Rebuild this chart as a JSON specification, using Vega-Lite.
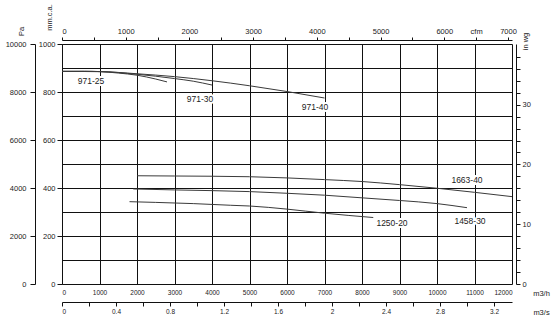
{
  "$schema": "https://vega.github.io/schema/vega-lite/v6.json",
  "width": 450,
  "height": 240,
  "autosize": {"type": "none"},
  "padding": {"left": 62, "top": 44, "right": 48, "bottom": 36},
  "background": "white",
  "config": {
    "view": {"stroke": null},
    "font": "Liberation Sans",
    "axis": {"labelFont": "Liberation Sans", "titleFont": "Liberation Sans", "labelColor": "#222", "titleColor": "#222", "labelFontSize": 7.5, "titleFontSize": 7.5, "titleFontWeight": "normal", "domainColor": "#111", "tickColor": "#111", "gridColor": "#111", "gridOpacity": 1, "gridWidth": 1, "domainWidth": 1, "tickWidth": 1}
  },
  "datasets": {
    "curves": [
      {"curve": "971-25", "q": 0, "p": 8860}, {"curve": "971-25", "q": 600, "p": 8870}, {"curve": "971-25", "q": 1000, "p": 8850}, {"curve": "971-25", "q": 1500, "p": 8790}, {"curve": "971-25", "q": 2000, "p": 8700}, {"curve": "971-25", "q": 2500, "p": 8540}, {"curve": "971-25", "q": 2800, "p": 8420},
      {"curve": "971-30", "q": 0, "p": 8860}, {"curve": "971-30", "q": 1000, "p": 8850}, {"curve": "971-30", "q": 2000, "p": 8740}, {"curve": "971-30", "q": 3000, "p": 8560}, {"curve": "971-30", "q": 3500, "p": 8450}, {"curve": "971-30", "q": 4000, "p": 8290},
      {"curve": "971-40", "q": 0, "p": 8860}, {"curve": "971-40", "q": 1000, "p": 8850}, {"curve": "971-40", "q": 2000, "p": 8760}, {"curve": "971-40", "q": 3000, "p": 8640}, {"curve": "971-40", "q": 4000, "p": 8470}, {"curve": "971-40", "q": 5000, "p": 8260}, {"curve": "971-40", "q": 6000, "p": 8020}, {"curve": "971-40", "q": 7000, "p": 7750},
      {"curve": "1663-40", "q": 2000, "p": 4510}, {"curve": "1663-40", "q": 3000, "p": 4500}, {"curve": "1663-40", "q": 4000, "p": 4490}, {"curve": "1663-40", "q": 5000, "p": 4470}, {"curve": "1663-40", "q": 6000, "p": 4420}, {"curve": "1663-40", "q": 7000, "p": 4350}, {"curve": "1663-40", "q": 8000, "p": 4270}, {"curve": "1663-40", "q": 9000, "p": 4140}, {"curve": "1663-40", "q": 10000, "p": 3990}, {"curve": "1663-40", "q": 11000, "p": 3820}, {"curve": "1663-40", "q": 12000, "p": 3640},
      {"curve": "1458-30", "q": 1900, "p": 3960}, {"curve": "1458-30", "q": 3000, "p": 3920}, {"curve": "1458-30", "q": 4000, "p": 3890}, {"curve": "1458-30", "q": 5000, "p": 3850}, {"curve": "1458-30", "q": 6000, "p": 3780}, {"curve": "1458-30", "q": 7000, "p": 3700}, {"curve": "1458-30", "q": 8000, "p": 3590}, {"curve": "1458-30", "q": 9000, "p": 3480}, {"curve": "1458-30", "q": 10000, "p": 3350}, {"curve": "1458-30", "q": 10800, "p": 3180},
      {"curve": "1250-20", "q": 1800, "p": 3430}, {"curve": "1250-20", "q": 2500, "p": 3400}, {"curve": "1250-20", "q": 3500, "p": 3350}, {"curve": "1250-20", "q": 4500, "p": 3280}, {"curve": "1250-20", "q": 5000, "p": 3250}, {"curve": "1250-20", "q": 6000, "p": 3120}, {"curve": "1250-20", "q": 7000, "p": 2950}, {"curve": "1250-20", "q": 8300, "p": 2770}
    ],
    "labels": [
      {"name": "971-25", "q": 773, "p": 8458},
      {"name": "971-30", "q": 3680, "p": 7708},
      {"name": "971-40", "q": 6747, "p": 7375},
      {"name": "1663-40", "q": 10800, "p": 4333},
      {"name": "1458-30", "q": 10880, "p": 2638},
      {"name": "1250-20", "q": 8800, "p": 2540}
    ],
    "pa": [{"v": 0}, {"v": 10000}],
    "mmca": [{"v": 0}, {"v": 1000}],
    "inwg": [{"v": 0}, {"v": 40.146}],
    "cfm": [{"v": 0}, {"v": 7063}],
    "m3s": [{"v": 0}, {"v": 3.3333}]
  },
  "layer": [
    {
      "data": {"name": "curves"},
      "mark": {"type": "line", "color": "#3a3a3a", "strokeWidth": 1, "interpolate": "monotone"},
      "encoding": {
        "x": {"field": "q", "type": "quantitative", "scale": {"domain": [0, 12000], "nice": false, "zero": false},
          "axis": {"orient": "bottom", "values": [0,1000,2000,3000,4000,5000,6000,7000,8000,9000,10000,11000,12000], "format": "d", "grid": true, "ticks": false, "domain": false, "labelPadding": 5, "labelFontSize": 6.5, "title": "m3/h", "titleX": 479, "titleY": 9, "titleAlign": "center", "titleBaseline": "middle", "titleFontSize": 7.5}},
        "y": {"field": "p", "type": "quantitative", "scale": {"domain": [0, 10000], "nice": false, "zero": false},
          "axis": {"values": [0,1000,2000,3000,4000,5000,6000,7000,8000,9000,10000], "grid": true, "ticks": false, "labels": false, "domain": false, "title": null}},
        "detail": {"field": "curve", "type": "nominal"}
      }
    },
    {
      "data": {"name": "labels"},
      "mark": {"type": "text", "fontSize": 8.5, "fill": "white", "stroke": "white", "strokeWidth": 4, "font": "Liberation Sans"},
      "encoding": {
        "x": {"field": "q", "type": "quantitative", "scale": {"domain": [0, 12000], "nice": false, "zero": false}, "axis": null},
        "y": {"field": "p", "type": "quantitative", "scale": {"domain": [0, 10000], "nice": false, "zero": false}, "axis": null},
        "text": {"field": "name"}
      }
    },
    {
      "data": {"name": "labels"},
      "mark": {"type": "text", "fontSize": 8.5, "fill": "#222", "font": "Liberation Sans"},
      "encoding": {
        "x": {"field": "q", "type": "quantitative", "scale": {"domain": [0, 12000], "nice": false, "zero": false}, "axis": null},
        "y": {"field": "p", "type": "quantitative", "scale": {"domain": [0, 10000], "nice": false, "zero": false}, "axis": null},
        "text": {"field": "name"}
      }
    },
    {
      "data": {"name": "pa"},
      "mark": {"type": "point", "opacity": 0},
      "encoding": {
        "y": {"field": "v", "type": "quantitative", "scale": {"domain": [0, 10000], "nice": false, "zero": false},
          "axis": {"orient": "left", "offset": 27, "values": [0,2000,4000,6000,8000,10000], "format": "d", "tickSize": 5, "labelPadding": 4, "grid": false, "title": "Pa", "titleAngle": 270, "titleX": -14, "titleY": -13, "titleAlign": "center", "titleBaseline": "middle"}}
      }
    },
    {
      "data": {"name": "mmca"},
      "mark": {"type": "point", "opacity": 0},
      "encoding": {
        "y": {"field": "v", "type": "quantitative", "scale": {"domain": [0, 1000], "nice": false, "zero": false},
          "axis": {"orient": "left", "offset": 0, "values": [0,200,400,600,800,1000], "format": "d", "tickSize": 5, "labelPadding": 2, "grid": false, "title": "mm.c.a.", "titleAngle": 270, "titleX": -13, "titleY": -27, "titleAlign": "center", "titleBaseline": "middle"}}
      }
    },
    {
      "data": {"name": "inwg"},
      "mark": {"type": "point", "opacity": 0},
      "encoding": {
        "y": {"field": "v", "type": "quantitative", "scale": {"domain": [0, 40.146], "nice": false, "zero": false},
          "axis": {"orient": "right", "offset": 4, "values": [0,2,4,6,8,10,12,14,16,18,20,22,24,26,28,30,32,34,36,38], "labelExpr": "datum.value % 10 == 0 ? datum.label : ''", "format": "d", "tickSize": 4, "labelPadding": 2, "grid": false, "title": "in wg", "titleAngle": 270, "titleX": 9, "titleY": -3, "titleAlign": "center", "titleBaseline": "middle"}}
      }
    },
    {
      "data": {"name": "cfm"},
      "mark": {"type": "point", "opacity": 0},
      "encoding": {
        "x": {"field": "v", "type": "quantitative", "scale": {"domain": [0, 7063], "nice": false, "zero": false},
          "axis": {"orient": "top", "offset": 4, "values": [0,500,1000,1500,2000,2500,3000,3500,4000,4500,5000,5500,6000,6500,7000], "labelExpr": "datum.value == 6500 ? 'cfm' : (datum.value % 1000 == 0 ? datum.label : '')", "format": "d", "tickSize": 3, "labelPadding": 2, "grid": false, "title": null}}
      }
    },
    {
      "data": {"name": "m3s"},
      "mark": {"type": "point", "opacity": 0},
      "encoding": {
        "x": {"field": "v", "type": "quantitative", "scale": {"domain": [0, 3.3333], "nice": false, "zero": false},
          "axis": {"orient": "bottom", "offset": 18, "values": [0,0.2,0.4,0.6,0.8,1,1.2,1.4,1.6,1.8,2,2.2,2.4,2.6,2.8,3,3.2], "labelExpr": "round(datum.value * 10) % 4 == 0 ? format(datum.value, '~g') : ''", "tickSize": 4, "labelPadding": 2, "labelFontSize": 6.5, "grid": false, "title": "m3/s", "titleX": 479, "titleY": 10, "titleAlign": "center", "titleBaseline": "middle", "titleFontSize": 7.5}}
      }
    }
  ],
  "resolve": {
    "scale": {"x": "independent", "y": "independent"},
    "axis": {"x": "independent", "y": "independent"}
  }
}
